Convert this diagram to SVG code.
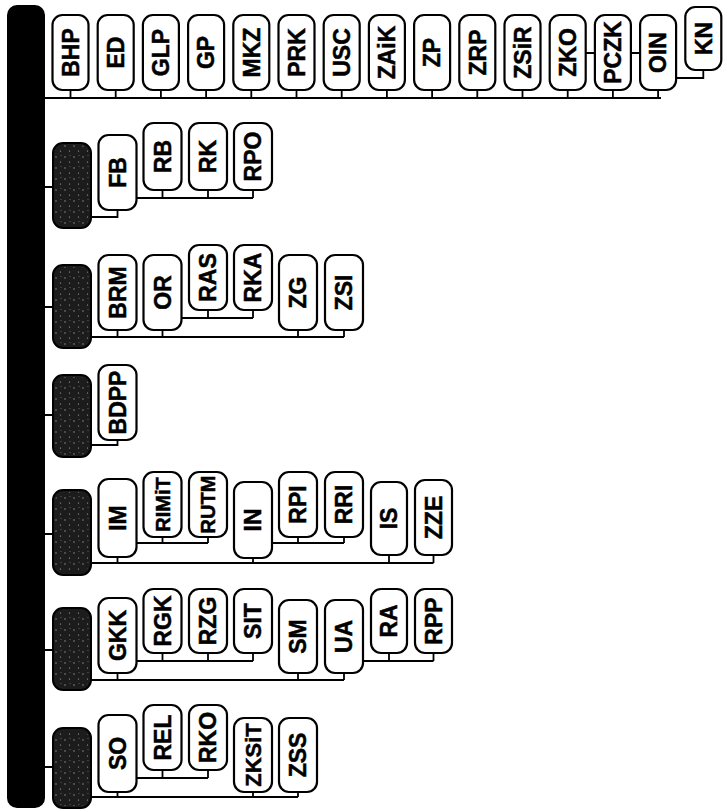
<svg xmlns="http://www.w3.org/2000/svg" width="723" height="811" viewBox="0 0 723 811">
<defs>
<pattern id="speck" width="9" height="11" patternUnits="userSpaceOnUse">
<circle cx="2" cy="3" r="0.7" fill="#9a9a9a"/>
<circle cx="6.5" cy="8" r="0.6" fill="#b0b0b0"/>
<circle cx="7" cy="1.5" r="0.5" fill="#777"/>
</pattern>
</defs>
<style>
.b{fill:#fff;stroke:#000;stroke-width:2.2}
.d{fill:#1c1c1c;stroke:#000;stroke-width:2}
.s{fill:url(#speck)}
.c{fill:none;stroke:#000;stroke-width:1.8}
text{font-family:"Liberation Sans",Arial,sans-serif;font-weight:bold;font-size:23px;text-anchor:middle;fill:#000;stroke:#000;stroke-width:0.5}
text.sm{font-size:20px}
text.md{font-size:22px}
</style>
<rect id="bar" x="7" y="5" width="38" height="803" rx="10" fill="#000"/>
<g id="connectors" class="c">
<path d="M45,98 H661 M70.5,90 V98 M115.7,90 V98 M160.9,90 V98 M206.1,90 V98 M251.3,90 V98 M296.5,90 V98 M341.7,90 V98 M386.9,90 V98 M432.1,90 V98 M477.3,90 V98 M522.5,90 V98 M567.7,90 V98 M612.9,90 V98 M658.1,90 V98"/>
<path d="M585.7,53 H595 M631,53 H640 M676.1,78 H703.3 V70"/>
<path d="M45,187 H53 M91,217 H117.5 V210 M136.5,198 H253 M162.5,190 V198 M208,190 V198 M253,190 V198"/>
<path d="M45,307 H53 M91,337 H344 M117.5,330 V337 M162.5,330 V337 M298,330 V337 M344,330 V337 M181.5,318 H253 M208,310 V318 M253,310 V318"/>
<path d="M45,415 H53 M91,445 H117.5 V440"/>
<path d="M45,534 H53 M91,563 H433.5 M117.5,557 V563 M253,558 V563 M389,555 V563 M433.5,555 V563 M136.5,543 H208 M162.5,537 V543 M208,537 V543 M272,543 H344 M298,537 V543 M344,537 V543"/>
<path d="M45,650 H53 M91,680 H344 M117.5,673 V680 M298,673 V680 M344,673 V680 M136.5,661 H253 M162.5,653 V661 M208,653 V661 M253,653 V661 M363,661 H433.5 M389,653 V661 M433.5,653 V661"/>
<path d="M45,767 H53 M91,797 H298 M117.5,792 V797 M253,792 V797 M298,792 V797 M136.5,778 H208 M162.5,770 V778 M208,770 V778"/>
</g>
<g id="n-BHP"><rect class="b" x="52.5" y="15" width="36" height="75" rx="10"/><text transform="translate(70.5,52.5) rotate(-90)" dy="0.36em">BHP</text></g>
<g id="n-ED"><rect class="b" x="97.7" y="15" width="36" height="75" rx="10"/><text transform="translate(115.7,52.5) rotate(-90)" dy="0.36em">ED</text></g>
<g id="n-GLP"><rect class="b" x="142.9" y="15" width="36" height="75" rx="10"/><text transform="translate(160.9,52.5) rotate(-90)" dy="0.36em">GLP</text></g>
<g id="n-GP"><rect class="b" x="188.1" y="15" width="36" height="75" rx="10"/><text transform="translate(206.1,52.5) rotate(-90)" dy="0.36em">GP</text></g>
<g id="n-MKZ"><rect class="b" x="233.3" y="15" width="36" height="75" rx="10"/><text transform="translate(251.3,52.5) rotate(-90)" dy="0.36em">MKZ</text></g>
<g id="n-PRK"><rect class="b" x="278.5" y="15" width="36" height="75" rx="10"/><text transform="translate(296.5,52.5) rotate(-90)" dy="0.36em">PRK</text></g>
<g id="n-USC"><rect class="b" x="323.7" y="15" width="36" height="75" rx="10"/><text transform="translate(341.7,52.5) rotate(-90)" dy="0.36em">USC</text></g>
<g id="n-ZAiK"><rect class="b" x="368.9" y="15" width="36" height="75" rx="10"/><text transform="translate(386.9,52.5) rotate(-90)" dy="0.36em">ZAiK</text></g>
<g id="n-ZP"><rect class="b" x="414.1" y="15" width="36" height="75" rx="10"/><text transform="translate(432.1,52.5) rotate(-90)" dy="0.36em">ZP</text></g>
<g id="n-ZRP"><rect class="b" x="459.3" y="15" width="36" height="75" rx="10"/><text transform="translate(477.3,52.5) rotate(-90)" dy="0.36em">ZRP</text></g>
<g id="n-ZSiR"><rect class="b" x="504.5" y="15" width="36" height="75" rx="10"/><text transform="translate(522.5,52.5) rotate(-90)" dy="0.36em">ZSiR</text></g>
<g id="n-ZKO"><rect class="b" x="549.7" y="15" width="36" height="75" rx="10"/><text transform="translate(567.7,52.5) rotate(-90)" dy="0.36em">ZKO</text></g>
<g id="n-PCZK"><rect class="b" x="594.9" y="15" width="36" height="75" rx="10"/><text transform="translate(612.9,52.5) rotate(-90)" dy="0.36em">PCZK</text></g>
<g id="n-OIN"><rect class="b" x="640.1" y="15" width="36" height="75" rx="10"/><text transform="translate(658.1,52.5) rotate(-90)" dy="0.36em">OIN</text></g>
<g id="n-KN"><rect class="b" x="685.3" y="7" width="36" height="63" rx="10"/><text transform="translate(703.3,38.5) rotate(-90)" dy="0.36em">KN</text></g>

<g id="g1"><rect class="d" x="53" y="143" width="38" height="85" rx="10"/><rect class="s" x="55" y="145" width="34" height="81" rx="9"/></g>
<g id="n-FB"><rect class="b" x="98.5" y="135" width="38" height="75" rx="10"/><text transform="translate(117.5,172.5) rotate(-90)" dy="0.36em">FB</text></g>
<g id="n-RB"><rect class="b" x="143.5" y="123" width="38" height="67" rx="10"/><text transform="translate(162.5,156.5) rotate(-90)" dy="0.36em">RB</text></g>
<g id="n-RK"><rect class="b" x="189" y="123" width="38" height="67" rx="10"/><text transform="translate(208,156.5) rotate(-90)" dy="0.36em">RK</text></g>
<g id="n-RPO"><rect class="b" x="234" y="123" width="38" height="67" rx="10"/><text transform="translate(253,156.5) rotate(-90)" dy="0.36em">RPO</text></g>

<g id="g2"><rect class="d" x="53" y="265" width="38" height="83" rx="10"/><rect class="s" x="55" y="267" width="34" height="79" rx="9"/></g>
<g id="n-BRM"><rect class="b" x="98.5" y="255" width="38" height="75" rx="10"/><text transform="translate(117.5,292.5) rotate(-90)" dy="0.36em">BRM</text></g>
<g id="n-OR"><rect class="b" x="143.5" y="255" width="38" height="75" rx="10"/><text transform="translate(162.5,292.5) rotate(-90)" dy="0.36em">OR</text></g>
<g id="n-RAS"><rect class="b" x="189" y="245" width="38" height="65" rx="10"/><text transform="translate(208,277.5) rotate(-90)" dy="0.36em">RAS</text></g>
<g id="n-RKA"><rect class="b" x="234" y="245" width="38" height="65" rx="10"/><text transform="translate(253,277.5) rotate(-90)" dy="0.36em">RKA</text></g>
<g id="n-ZG"><rect class="b" x="279" y="255" width="38" height="75" rx="10"/><text transform="translate(298,292.5) rotate(-90)" dy="0.36em">ZG</text></g>
<g id="n-ZSI"><rect class="b" x="325" y="255" width="38" height="75" rx="10"/><text transform="translate(344,292.5) rotate(-90)" dy="0.36em">ZSI</text></g>

<g id="g3"><rect class="d" x="53" y="375" width="38" height="82" rx="10"/><rect class="s" x="55" y="377" width="34" height="78" rx="9"/></g>
<g id="n-BDPP"><rect class="b" x="98.5" y="365" width="38" height="75" rx="10"/><text transform="translate(117.5,402.5) rotate(-90)" dy="0.36em">BDPP</text></g>

<g id="g4"><rect class="d" x="53" y="490" width="38" height="85" rx="10"/><rect class="s" x="55" y="492" width="34" height="81" rx="9"/></g>
<g id="n-IM"><rect class="b" x="98.5" y="479" width="38" height="78" rx="10"/><text transform="translate(117.5,518) rotate(-90)" dy="0.36em">IM</text></g>
<g id="n-RIMiT"><rect class="b" x="143.5" y="472" width="38" height="65" rx="10"/><text class="sm" transform="translate(162.5,504.5) rotate(-90)" dy="0.36em">RIMiT</text></g>
<g id="n-RUTM"><rect class="b" x="189" y="472" width="38" height="65" rx="10"/><text class="sm" transform="translate(208,504.5) rotate(-90)" dy="0.36em">RUTM</text></g>
<g id="n-IN"><rect class="b" x="234" y="482" width="38" height="76" rx="10"/><text transform="translate(253,520) rotate(-90)" dy="0.36em">IN</text></g>
<g id="n-RPI"><rect class="b" x="279" y="472" width="38" height="65" rx="10"/><text transform="translate(298,504.5) rotate(-90)" dy="0.36em">RPI</text></g>
<g id="n-RRI"><rect class="b" x="325" y="472" width="38" height="65" rx="10"/><text transform="translate(344,504.5) rotate(-90)" dy="0.36em">RRI</text></g>
<g id="n-IS"><rect class="b" x="371" y="482" width="36" height="73" rx="10"/><text transform="translate(389,518.5) rotate(-90)" dy="0.36em">IS</text></g>
<g id="n-ZZE"><rect class="b" x="415" y="480" width="37" height="75" rx="10"/><text transform="translate(433.5,517.5) rotate(-90)" dy="0.36em">ZZE</text></g>

<g id="g5"><rect class="d" x="53" y="608" width="38" height="82" rx="10"/><rect class="s" x="55" y="610" width="34" height="78" rx="9"/></g>
<g id="n-GKK"><rect class="b" x="98.5" y="598" width="38" height="75" rx="10"/><text transform="translate(117.5,635.5) rotate(-90)" dy="0.36em">GKK</text></g>
<g id="n-RGK"><rect class="b" x="143.5" y="589" width="38" height="64" rx="10"/><text transform="translate(162.5,621) rotate(-90)" dy="0.36em">RGK</text></g>
<g id="n-RZG"><rect class="b" x="189" y="589" width="38" height="64" rx="10"/><text transform="translate(208,621) rotate(-90)" dy="0.36em">RZG</text></g>
<g id="n-SIT"><rect class="b" x="234" y="589" width="38" height="64" rx="10"/><text transform="translate(253,621) rotate(-90)" dy="0.36em">SIT</text></g>
<g id="n-SM"><rect class="b" x="279" y="600" width="38" height="73" rx="10"/><text transform="translate(298,636.5) rotate(-90)" dy="0.36em">SM</text></g>
<g id="n-UA"><rect class="b" x="325" y="600" width="38" height="73" rx="10"/><text transform="translate(344,636.5) rotate(-90)" dy="0.36em">UA</text></g>
<g id="n-RA"><rect class="b" x="371" y="589" width="36" height="64" rx="10"/><text transform="translate(389,621) rotate(-90)" dy="0.36em">RA</text></g>
<g id="n-RPP"><rect class="b" x="415" y="589" width="37" height="64" rx="10"/><text transform="translate(433.5,621) rotate(-90)" dy="0.36em">RPP</text></g>

<g id="g6"><rect class="d" x="53" y="728" width="38" height="80" rx="10"/><rect class="s" x="55" y="730" width="34" height="76" rx="9"/></g>
<g id="n-SO"><rect class="b" x="98.5" y="715" width="38" height="77" rx="10"/><text transform="translate(117.5,753.5) rotate(-90)" dy="0.36em">SO</text></g>
<g id="n-REL"><rect class="b" x="143.5" y="705" width="38" height="65" rx="10"/><text transform="translate(162.5,737.5) rotate(-90)" dy="0.36em">REL</text></g>
<g id="n-RKO"><rect class="b" x="189" y="705" width="38" height="65" rx="10"/><text transform="translate(208,737.5) rotate(-90)" dy="0.36em">RKO</text></g>
<g id="n-ZKSiT"><rect class="b" x="234" y="718" width="38" height="74" rx="10"/><text class="md" transform="translate(253,755) rotate(-90)" dy="0.36em">ZKSiT</text></g>
<g id="n-ZSS"><rect class="b" x="279" y="718" width="38" height="74" rx="10"/><text transform="translate(298,755) rotate(-90)" dy="0.36em">ZSS</text></g>
</svg>
